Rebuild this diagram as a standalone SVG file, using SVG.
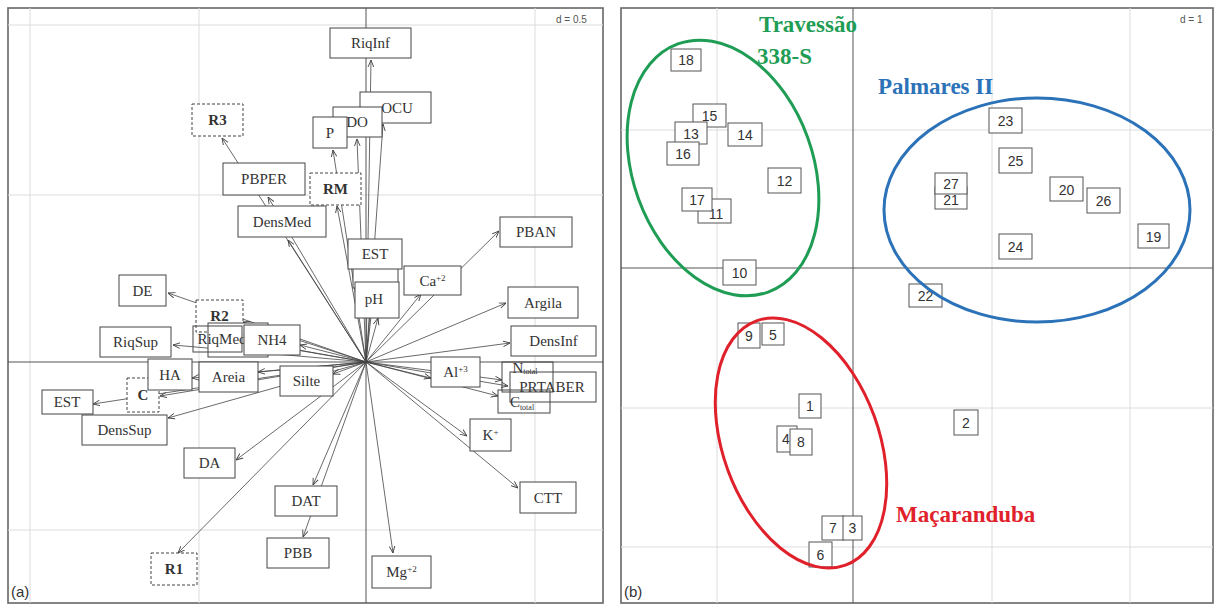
<svg xmlns="http://www.w3.org/2000/svg" width="1216" height="605" viewBox="0 0 1216 605">
<style>
.frame{fill:#fff;stroke:#666;stroke-width:1.6}
.grid{stroke:#dcdcdc;stroke-width:1}
.axis{stroke:#555;stroke-width:1}
.arr{stroke:#444;stroke-width:0.8;fill:none;marker-end:url(#ah)}
.box rect{fill:#fff;stroke:#444;stroke-width:1}
.obox rect{fill:none;stroke:#444;stroke-width:1}
.dbox rect{fill:#fff;stroke:#444;stroke-width:1;stroke-dasharray:3,2}
.lt{font-family:"Liberation Serif",serif;font-size:15px;fill:#333;text-anchor:middle}
.bt{font-family:"Liberation Serif",serif;font-size:15px;font-weight:bold;fill:#333;text-anchor:middle}
.nb rect{fill:#fff;stroke:#555;stroke-width:1}
.nt{font-family:"Liberation Sans",sans-serif;font-size:14px;fill:#333;text-anchor:middle}
.d{font-family:"Liberation Sans",sans-serif;font-size:10px;fill:#555}
.pl{font-family:"Liberation Sans",sans-serif;font-size:15px;fill:#333}
.grp{font-family:"Liberation Serif",serif;font-size:23px;font-weight:bold}
</style>
<defs>
<marker id="ah" viewBox="0 0 10 10" refX="10" refY="5" markerWidth="7" markerHeight="7" orient="auto" markerUnits="userSpaceOnUse">
<path d="M0,1 L10,5 L0,9" fill="none" stroke="#444" stroke-width="1.3"/>
</marker>
</defs>
<rect width="1216" height="605" fill="#fff"/>

<!-- Panel A -->
<g id="panelA">
<rect class="frame" x="8" y="8" width="595" height="595"/>
<line class="grid" x1="30" y1="8" x2="30" y2="603"/>
<line class="grid" x1="199" y1="8" x2="199" y2="603"/>
<line class="grid" x1="535" y1="8" x2="535" y2="603"/>
<line class="grid" x1="8" y1="25" x2="603" y2="25"/>
<line class="grid" x1="8" y1="195" x2="603" y2="195"/>
<line class="grid" x1="8" y1="530" x2="603" y2="530"/>
<line class="axis" x1="366" y1="8" x2="366" y2="603"/>
<line class="axis" x1="8" y1="362" x2="603" y2="362"/>
<text class="d" x="556" y="23">d = 0.5</text>
<text class="pl" x="11" y="597">(a)</text>
</g>

<g id="connectorsA">
<line class="arr" x1="366" y1="362" x2="371" y2="60"/>
<line class="arr" x1="366" y1="362" x2="383" y2="124"/>
<line class="arr" x1="366" y1="362" x2="357" y2="139"/>
<line class="arr" x1="366" y1="362" x2="333" y2="150"/>
<line class="arr" x1="366" y1="362" x2="222" y2="138"/>
<line class="arr" x1="366" y1="362" x2="268" y2="197"/>
<line class="arr" x1="366" y1="362" x2="337" y2="206"/>
<line class="arr" x1="366" y1="362" x2="288" y2="240"/>
<line class="arr" x1="366" y1="362" x2="376" y2="271"/>
<line class="arr" x1="366" y1="362" x2="421" y2="294"/>
<line class="arr" x1="366" y1="362" x2="499" y2="231"/>
<line class="arr" x1="366" y1="362" x2="506" y2="303"/>
<line class="arr" x1="366" y1="362" x2="510" y2="343"/>
<line class="arr" x1="366" y1="362" x2="431" y2="378"/>
<line class="arr" x1="366" y1="362" x2="502" y2="380"/>
<line class="arr" x1="366" y1="362" x2="508" y2="386"/>
<line class="arr" x1="366" y1="362" x2="498" y2="396"/>
<line class="arr" x1="366" y1="362" x2="467" y2="436"/>
<line class="arr" x1="366" y1="362" x2="518" y2="488"/>
<line class="arr" x1="366" y1="362" x2="393" y2="553"/>
<line class="arr" x1="366" y1="362" x2="303" y2="537"/>
<line class="arr" x1="366" y1="362" x2="313" y2="485"/>
<line class="arr" x1="366" y1="362" x2="236" y2="460"/>
<line class="arr" x1="366" y1="362" x2="178" y2="553"/>
<line class="arr" x1="366" y1="362" x2="168" y2="418"/>
<line class="arr" x1="366" y1="362" x2="93" y2="404"/>
<line class="arr" x1="366" y1="362" x2="160" y2="396"/>
<line class="arr" x1="366" y1="362" x2="192" y2="378"/>
<line class="arr" x1="366" y1="362" x2="258" y2="372"/>
<line class="arr" x1="366" y1="362" x2="333" y2="374"/>
<line class="arr" x1="366" y1="362" x2="173" y2="345"/>
<line class="arr" x1="366" y1="362" x2="168" y2="293"/>
<line class="arr" x1="366" y1="362" x2="243" y2="322"/>
<line class="arr" x1="366" y1="362" x2="242" y2="340"/>
<line class="arr" x1="366" y1="362" x2="268" y2="345"/>
<line class="arr" x1="366" y1="362" x2="300" y2="345"/>
<line class="arr" x1="366" y1="362" x2="372" y2="290"/>
<line class="arr" x1="366" y1="362" x2="378" y2="318"/>
</g>

<g id="n-RiqInf" class="box"><rect x="330" y="28" width="81" height="30"/><text class="lt" x="370.5" y="48">RiqInf</text></g>
<g id="n-OCU" class="box"><rect x="360" y="92" width="71" height="31"/><text class="lt" x="397" y="113">OCU</text></g>
<g id="n-DO" class="box"><rect x="333" y="107" width="49" height="30"/><text class="lt" x="357" y="127">DO</text></g>
<g id="n-P" class="box"><rect x="313" y="117" width="34" height="31"/><text class="lt" x="330" y="138">P</text></g>
<g id="n-R3" class="dbox"><rect x="192" y="104" width="51" height="32"/><text class="bt" x="217.5" y="125">R3</text></g>
<g id="n-PBPER" class="box"><rect x="223" y="163" width="82" height="32"/><text class="lt" x="264" y="184">PBPER</text></g>
<g id="n-RM" class="dbox"><rect x="310" y="173" width="51" height="32"/><text class="bt" x="335.5" y="194">RM</text></g>
<g id="n-DensMed" class="box"><rect x="238" y="206" width="88" height="31"/><text class="lt" x="282" y="227">DensMed</text></g>
<g id="n-c1" class="box"><rect x="353" y="268" width="45" height="20"/></g>
<g id="n-pH" class="box"><rect x="355" y="282" width="44" height="36"/><text class="lt" x="374" y="304">pH</text></g>
<g id="n-EST1" class="box"><rect x="348" y="239" width="54" height="30"/><text class="lt" x="375" y="259">EST</text></g>
<g id="n-Ca" class="box"><rect x="404" y="266" width="57" height="29"/><text class="lt" x="432.5" y="286">Ca<tspan dy="-5" font-size="9">+2</tspan></text></g>
<g id="n-PBAN" class="box"><rect x="500" y="217" width="72" height="30"/><text class="lt" x="536" y="237">PBAN</text></g>
<g id="n-Argila" class="box"><rect x="508" y="287" width="70" height="31"/><text class="lt" x="543" y="308">Argila</text></g>
<g id="n-DensInf" class="box"><rect x="511" y="326" width="85" height="30"/><text class="lt" x="553.5" y="346">DensInf</text></g>
<g id="n-Al" class="box"><rect x="431" y="357" width="49" height="30"/><text class="lt" x="455.5" y="377">Al<tspan dy="-5" font-size="9">+3</tspan></text></g>
<g id="n-PRTABER" class="box"><rect x="510" y="372" width="86" height="30"/><text class="lt" x="552" y="392">PRTABER</text></g>
<g id="n-Ntotal" class="obox"><rect x="502" y="362" width="51" height="30"/><text class="lt" x="525" y="373">N<tspan dy="1" font-size="8">total</tspan></text></g>
<g id="n-Ctotal" class="obox"><rect x="498" y="390" width="52" height="23"/><text class="lt" x="522" y="407">C<tspan dy="3" font-size="8">total</tspan></text></g>
<g id="n-K" class="box"><rect x="470" y="419" width="41" height="32"/><text class="lt" x="490.5" y="440">K<tspan dy="-5" font-size="9">+</tspan></text></g>
<g id="n-CTT" class="box"><rect x="520" y="482" width="56" height="31"/><text class="lt" x="548" y="503">CTT</text></g>
<g id="n-Mg" class="box"><rect x="372" y="556" width="59" height="32"/><text class="lt" x="401.5" y="577">Mg<tspan dy="-5" font-size="9">+2</tspan></text></g>
<g id="n-DAT" class="box"><rect x="275" y="486" width="62" height="30"/><text class="lt" x="306" y="506">DAT</text></g>
<g id="n-PBB" class="box"><rect x="267" y="538" width="62" height="30"/><text class="lt" x="298" y="558">PBB</text></g>
<g id="n-DA" class="box"><rect x="184" y="448" width="51" height="30"/><text class="lt" x="209.5" y="468">DA</text></g>
<g id="n-R1" class="dbox"><rect x="151" y="553" width="46" height="32"/><text class="bt" x="174" y="574">R1</text></g>
<g id="n-DensSup" class="box"><rect x="82" y="415" width="85" height="30"/><text class="lt" x="124.5" y="435">DensSup</text></g>
<g id="n-EST2" class="box"><rect x="42" y="390" width="51" height="24"/><text class="lt" x="67" y="407">EST</text></g>
<g id="n-C" class="dbox"><rect x="127" y="378" width="32" height="34"/><text class="bt" x="143" y="400">C</text></g>
<g id="n-HA" class="box"><rect x="148" y="359" width="44" height="31"/><text class="lt" x="170" y="380">HA</text></g>
<g id="n-Areia" class="box"><rect x="199" y="362" width="59" height="30"/><text class="lt" x="228.5" y="382">Areia</text></g>
<g id="n-Silte" class="box"><rect x="280" y="366" width="53" height="30"/><text class="lt" x="306.5" y="386">Silte</text></g>
<g id="n-RiqSup" class="box"><rect x="100" y="327" width="71" height="30"/><text class="lt" x="135.5" y="347">RiqSup</text></g>
<g id="n-DE" class="box"><rect x="119" y="275" width="47" height="31"/><text class="lt" x="142.5" y="296">DE</text></g>
<g id="n-R2" class="dbox"><rect x="196" y="300" width="47" height="32"/><text class="bt" x="219.5" y="321">R2</text></g>
<g id="n-c2" class="box"><rect x="208" y="323" width="60" height="34"/></g>
<g id="n-RiqMed" class="obox"><rect x="193" y="326" width="49" height="26"/><text class="lt" x="222" y="344">RiqMed</text></g>
<g id="n-NH4" class="box"><rect x="244" y="325" width="56" height="30"/><text class="lt" x="272" y="345">NH4</text></g>

<!-- Panel B -->
<g id="panelB">
<rect class="frame" x="621" y="8" width="592" height="595"/>
<line class="grid" x1="717" y1="8" x2="717" y2="603"/>
<line class="grid" x1="992" y1="8" x2="992" y2="603"/>
<line class="grid" x1="1130" y1="8" x2="1130" y2="603"/>
<line class="grid" x1="621" y1="130" x2="1213" y2="130"/>
<line class="grid" x1="621" y1="408" x2="1213" y2="408"/>
<line class="grid" x1="621" y1="547" x2="1213" y2="547"/>
<line class="axis" x1="853" y1="8" x2="853" y2="603"/>
<line class="axis" x1="621" y1="268" x2="1213" y2="268"/>
<text class="d" x="1180" y="23">d = 1</text>
<text class="pl" x="624" y="597">(b)</text>
</g>

<g id="s18" class="nb"><rect x="671" y="49" width="30" height="22"/><text class="nt" x="686" y="65">18</text></g>
<g id="s15" class="nb"><rect x="693" y="104" width="33" height="23"/><text class="nt" x="709.5" y="121">15</text></g>
<g id="s13" class="nb"><rect x="675" y="122" width="32" height="22"/><text class="nt" x="691" y="139">13</text></g>
<g id="s16" class="nb"><rect x="667" y="142" width="32" height="23"/><text class="nt" x="683" y="159">16</text></g>
<g id="s14" class="nb"><rect x="728" y="123" width="34" height="23"/><text class="nt" x="745" y="140">14</text></g>
<g id="s12" class="nb"><rect x="768" y="168" width="33" height="25"/><text class="nt" x="784.5" y="186">12</text></g>
<g id="s11" class="nb"><rect x="698" y="199" width="33" height="24"/><text class="nt" x="716" y="219">11</text></g>
<g id="s17" class="nb"><rect x="682" y="188" width="30" height="23"/><text class="nt" x="697" y="205">17</text></g>
<g id="s10" class="nb"><rect x="723" y="260" width="33" height="25"/><text class="nt" x="739.5" y="278">10</text></g>
<g id="s23" class="nb"><rect x="989" y="108" width="33" height="25"/><text class="nt" x="1005.5" y="126">23</text></g>
<g id="s25" class="nb"><rect x="999" y="148" width="33" height="25"/><text class="nt" x="1015.5" y="166">25</text></g>
<g id="s21" class="nb"><rect x="935" y="187" width="32" height="22"/><text class="nt" x="951" y="205">21</text></g>
<g id="s27" class="nb"><rect x="935" y="173" width="32" height="21"/><text class="nt" x="951" y="189">27</text></g>
<g id="s20" class="nb"><rect x="1050" y="177" width="33" height="24"/><text class="nt" x="1066.5" y="195">20</text></g>
<g id="s26" class="nb"><rect x="1087" y="188" width="33" height="25"/><text class="nt" x="1103.5" y="206">26</text></g>
<g id="s19" class="nb"><rect x="1138" y="224" width="31" height="24"/><text class="nt" x="1153.5" y="242">19</text></g>
<g id="s24" class="nb"><rect x="999" y="234" width="33" height="25"/><text class="nt" x="1015.5" y="252">24</text></g>
<g id="s22" class="nb"><rect x="909" y="284" width="33" height="23"/><text class="nt" x="925.5" y="301">22</text></g>
<g id="s9" class="nb"><rect x="738" y="323" width="22" height="25"/><text class="nt" x="749" y="341">9</text></g>
<g id="s5" class="nb"><rect x="762" y="323" width="22" height="22"/><text class="nt" x="773" y="340">5</text></g>
<g id="s1" class="nb"><rect x="799" y="394" width="22" height="24"/><text class="nt" x="810" y="411">1</text></g>
<g id="s4" class="nb"><rect x="777" y="426" width="20" height="26"/><text class="nt" x="786" y="444">4</text></g>
<g id="s8" class="nb"><rect x="790" y="429" width="22" height="26"/><text class="nt" x="801" y="447">8</text></g>
<g id="s7" class="nb"><rect x="822" y="516" width="22" height="24"/><text class="nt" x="833" y="533">7</text></g>
<g id="s3" class="nb"><rect x="843" y="516" width="19" height="24"/><text class="nt" x="852.5" y="533">3</text></g>
<g id="s6" class="nb"><rect x="809" y="542" width="23" height="25"/><text class="nt" x="820.5" y="560">6</text></g>
<g id="s2" class="nb"><rect x="954" y="410" width="24" height="25"/><text class="nt" x="966" y="428">2</text></g>

<g id="groups" fill="none" stroke-width="3">
<ellipse id="g-trav" cx="723" cy="168" rx="90" ry="132" transform="rotate(-20 723 168)" stroke="#1f9d55"/>
<ellipse id="g-palm" cx="1037" cy="210" rx="153" ry="112" stroke="#2b72b8"/>
<ellipse id="g-maca" cx="801" cy="443" rx="78" ry="130" transform="rotate(-20 801 443)" stroke="#e0202a"/>
</g>
<text class="grp" x="759" y="32" fill="#1f9d55">Travessão</text>
<text class="grp" x="757" y="64" fill="#1f9d55">338-S</text>
<text class="grp" x="878" y="94" fill="#2b72b8">Palmares II</text>
<text class="grp" x="896" y="522" fill="#e0202a">Maçaranduba</text>
</svg>
